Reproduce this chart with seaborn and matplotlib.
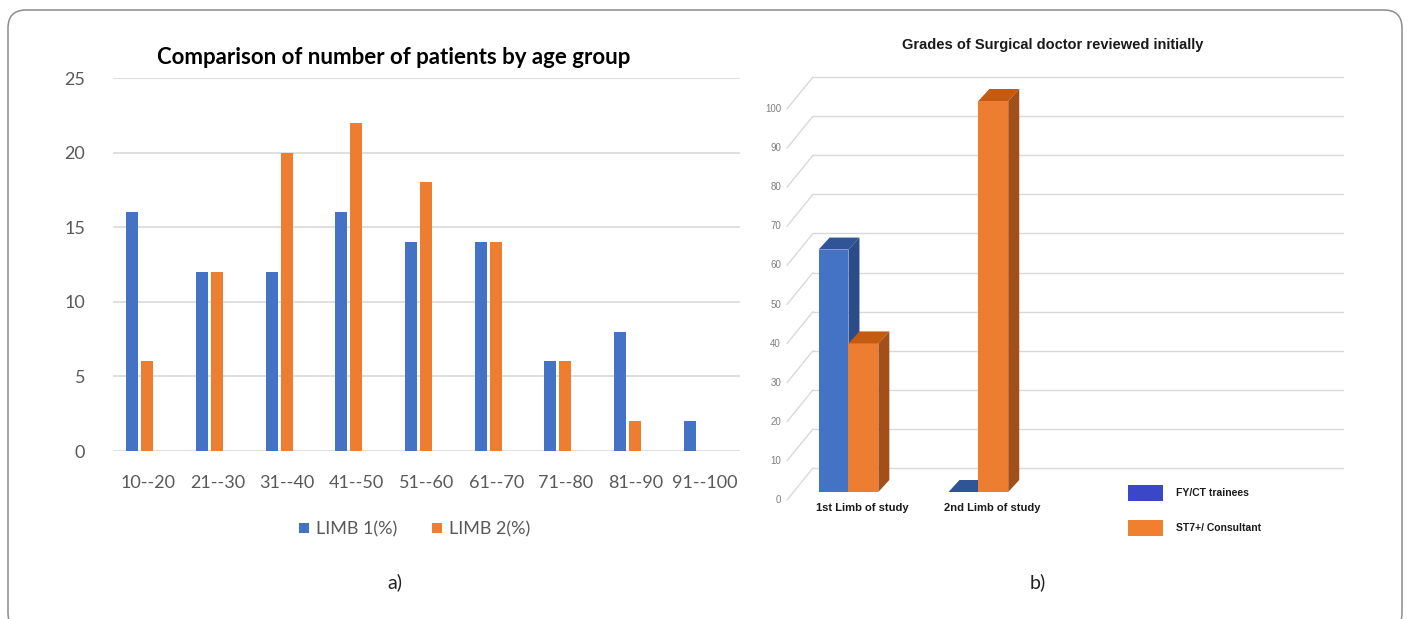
import matplotlib
matplotlib.use("Agg")
import numpy as np
import pandas as pd
import matplotlib.pyplot as plt
import seaborn as sns
from matplotlib.patches import FancyBboxPatch, Polygon, Rectangle
from matplotlib.lines import Line2D
from matplotlib.transforms import IdentityTransform

# ---- panel a) data ----
age_groups = ["10--20", "21--30", "31--40", "41--50", "51--60",
              "61--70", "71--80", "81--90", "91--100"]
limb1_pct = [16, 12, 12, 16, 14, 14, 6, 8, 2]
limb2_pct = [6, 12, 20, 22, 18, 14, 6, 2, 0]
series_a = ["LIMB 1(%)", "LIMB 2(%)"]
ticks_a = [0, 5, 10, 15, 20, 25]

# ---- panel b) data ----
limbs = ["1st Limb of study", "2nd Limb of study"]
fy_ct = [62, 0]
st7_consultant = [38, 100]
grades = ["FY/CT trainees", "ST7+/ Consultant"]
ticks_b = [0, 10, 20, 30, 40, 50, 60, 70, 80, 90, 100]

W, H, DPI = 1408, 619, 100
sns.set_theme(style="white")
plt.rcParams["font.family"] = ["Lato", "DejaVu Sans"]

fig = plt.figure(figsize=(W / DPI, H / DPI), dpi=DPI)
fig.patch.set_facecolor("white")


def px_rect(x0, y0, x1, y1):
    """Pixel box measured from the top-left corner -> figure fraction rect."""
    return [x0 / W, 1 - y1 / H, (x1 - x0) / W, (y1 - y0) / H]


def fx(x):
    return x / W


def fy(y):
    return 1 - y / H


# rounded frame around both panels
frame = FancyBboxPatch((8, -12), 1394, H - 10 + 12,
                       boxstyle="round,pad=0,rounding_size=18",
                       transform=IdentityTransform(), facecolor="none",
                       edgecolor="#8c8c8c", linewidth=1.1)
fig.add_artist(frame)

# ================= panel a) =================
BLUE, ORANGE = "#4472C4", "#ED7D31"
grey_txt = "#595959"
ax = fig.add_axes(px_rect(113, 78, 740, 451))
df_a = pd.DataFrame({
    "age": age_groups * 2,
    "pct": limb1_pct + limb2_pct,
    "series": [series_a[0]] * len(age_groups) + [series_a[1]] * len(age_groups),
})
sns.barplot(data=df_a, x="age", y="pct", hue="series", order=age_groups,
            hue_order=series_a, palette=[BLUE, ORANGE], saturation=1,
            width=0.43, gap=0.2, linewidth=0, legend=False, ax=ax, zorder=3)
# clusters sit left of the category label, leaving room for a third slot
label_shift = 0.115
ax.set_xticks(np.arange(len(age_groups)) + label_shift, labels=age_groups)
ax.set_xlim(-0.5 + label_shift, len(age_groups) - 0.5 + label_shift)
ax.set_ylim(0, 25)
ax.set_yticks(ticks_a)
ax.yaxis.grid(True, color="#d9d9d9", linewidth=1.2, zorder=0)
ax.set_axisbelow(True)
for s in ax.spines.values():
    s.set_visible(False)
ax.set_xlabel("")
ax.set_ylabel("")
ax.tick_params(axis="x", length=0, pad=17, labelsize=13, labelcolor=grey_txt)
ax.tick_params(axis="y", length=0, pad=20, labelsize=13, labelcolor=grey_txt)

fig.text(fx(394), fy(57), "Comparison of number of patients by age group",
         ha="center", va="center", fontsize=16, fontweight="bold", color="#000000")

handles_a = [Line2D([], [], marker="s", linestyle="none", markersize=7,
                    markerfacecolor=c, markeredgewidth=0) for c in (BLUE, ORANGE)]
fig.legend(handles_a, series_a, loc="center", bbox_to_anchor=(fx(414), fy(529)),
           ncol=2, frameon=False, fontsize=13, labelcolor=grey_txt,
           handletextpad=0.3, columnspacing=1.9, handlelength=0.7)

fig.text(fx(395), fy(582), "a)", ha="center", va="center", fontsize=14, color="#222222")
fig.text(fx(1038), fy(582), "b)", ha="center", va="center", fontsize=14, color="#222222")

# ================= panel b) (pseudo-3D bars) =================
arial = ["Liberation Sans", "DejaVu Sans"]
narrow = ["Liberation Sans Narrow", "Liberation Sans", "DejaVu Sans"]
bx = fig.add_axes(px_rect(790, 101, 1320, 492))
df_b = pd.DataFrame({
    "limb": limbs * 2,
    "value": fy_ct + st7_consultant,
    "grade": [grades[0]] * len(limbs) + [grades[1]] * len(limbs),
})
sns.barplot(data=df_b, x="limb", y="value", hue="grade", order=limbs,
            hue_order=grades, palette=["#4472C4", "#ED7D31"], saturation=1,
            width=0.46, gap=0, linewidth=0, legend=False, ax=bx)
bx.set_xlim(-0.45, 3.63)
bx.set_ylim(0, 100)
bx.set_autoscale_on(False)
bx.axis("off")

# depth offset of the back wall and of the bar tops (display pixels)
WALL_DX, WALL_DY = 23, 24
BAR_DX, BAR_DY = 11, 12
grid_c = "#d9d9d9"
to_px = bx.transData.transform
x_left = bx.get_xlim()[0]
x_right_back = 1343

for v in ticks_b:
    x0, y0 = to_px((x_left, v))
    yb = y0 + WALL_DY
    xb = x0 + WALL_DX
    bx.add_line(Line2D([xb, x_right_back], [yb, yb], color=grid_c, linewidth=1.0,
                       transform=IdentityTransform(), clip_on=False, zorder=1))
    bx.add_line(Line2D([xb - 26, xb], [yb - 32, yb], color=grid_c, linewidth=1.0,
                       transform=IdentityTransform(), clip_on=False, zorder=1))
    fig.text((xb - 32) / W, (yb - 32) / H, f"{v}", ha="right", va="center",
             fontsize=7, color="#7f7f7f", family=narrow)

shade = {"#4472C4": ("#2f5597", "#2b4c88"), "#ED7D31": ("#c55a11", "#a34f1a")}
bars = [p for p in bx.patches if isinstance(p, Rectangle)]
for k, p in enumerate(bars):
    face = matplotlib.colors.to_hex(p.get_facecolor())
    key = "#4472C4" if abs(int(face[1:3], 16) - 0x44) < 20 else "#ED7D31"
    top_c, side_c = shade[key]
    z = 3 + k
    p.set_zorder(z)
    x0, x1 = p.get_x(), p.get_x() + p.get_width()
    h = p.get_height()
    (px0, pyb), (px1, pyt) = to_px((x0, 0)), to_px((x1, h))
    top = Polygon([(px0, pyt), (px1, pyt), (px1 + BAR_DX, pyt + BAR_DY),
                   (px0 + BAR_DX, pyt + BAR_DY)], closed=True, facecolor=top_c,
                  edgecolor="none", transform=IdentityTransform(), clip_on=False, zorder=z)
    side = Polygon([(px1, pyb), (px1, pyt), (px1 + BAR_DX, pyt + BAR_DY),
                    (px1 + BAR_DX, pyb + BAR_DY)], closed=True, facecolor=side_c,
                   edgecolor="none", transform=IdentityTransform(), clip_on=False, zorder=z)
    bx.add_patch(top)
    bx.add_patch(side)

# category labels under each group
for i, lab in enumerate(limbs):
    cx, cy = to_px((i, 0))
    fig.text((cx + 14) / W, (cy - 16) / H, lab, ha="center", va="center",
             fontsize=8, fontweight="bold", color="#1a1a1a", family=arial)

fig.text(fx(1053), fy(45), "Grades of Surgical doctor reviewed initially",
         ha="center", va="center", fontsize=10.5, fontweight="bold",
         color="#1a1a1a", family=arial)

# legend of panel b)
leg_cols = ["#3a47c9", "#f08030"]
leg_y = [493, 528]
for c, y, lab in zip(leg_cols, leg_y, grades):
    fig.add_artist(Rectangle((fx(1128), fy(y + 8)), 35 / W, 16 / H,
                             transform=fig.transFigure, facecolor=c, edgecolor="none"))
    fig.text(fx(1176), fy(y), lab, ha="left", va="center", fontsize=7.5,
             fontweight="bold", color="#1a1a1a", family=arial)

fig.savefig("out.png", dpi=DPI, facecolor="white")
